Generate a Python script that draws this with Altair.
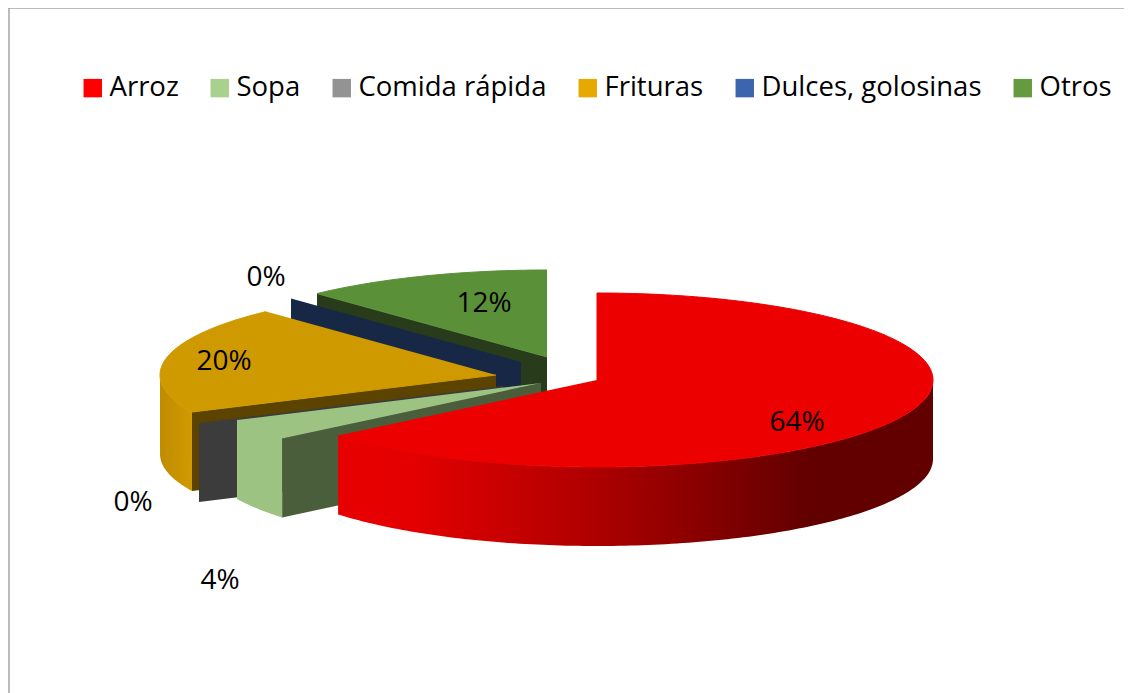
import math
import altair as alt
import pandas as pd

# ---- data ----
categories = ["Arroz", "Sopa", "Comida rápida", "Frituras", "Dulces, golosinas", "Otros"]
values = [64, 4, 0, 20, 0, 12]
legend_colors = ["#ff0000", "#a9d18e", "#939393", "#e5a900", "#3c65ae", "#659b3e"]

# ---- styling / layout of the 3-D look (page pixels) ----
top_colors = ["#ec0000", "#9cc382", "#3c3c3c", "#cf9a00", "#162845", "#5a9038"]
wall_colors = [None, "#4b5e3c", "#3c3c3c", "#5c4300", "#162845", "#283b1a"]
centers = [(597, 380), (541, 383), (503, 386), (496, 375), (521, 362), (547, 357)]
label_pos = [(797, 421), (220, 579), (133, 501), (224, 360), (266, 276), (484, 302)]
RX, RY, DEPTH = 336, 87, 79
FONT = "Open Sans"
RIGHT = 1124

xs = alt.Scale(domain=[8, RIGHT], nice=False, zero=False)
ys = alt.Scale(domain=[693, 8], nice=False, zero=False)
X = lambda f="x": alt.X(f"{f}:Q", scale=xs, axis=None)
Y = lambda f="y": alt.Y(f"{f}:Q", scale=ys, axis=None)


def ellipse(c, deg, drop=0):
    a = math.radians(deg)
    return (c[0] + RX * math.sin(a), c[1] - RY * math.cos(a) + drop)


def arc(c, a0, a1, drop=0):
    n = max(1, int(abs(a1 - a0)))
    return [ellipse(c, a0 + (a1 - a0) * k / n, drop) for k in range(n + 1)]


def poly(points, fill, outline=False):
    df = pd.DataFrame(points, columns=["x", "y"])
    df["i"] = range(len(df))
    style = dict(stroke=fill, strokeWidth=1) if outline else dict(strokeWidth=0)
    return alt.Chart(df).mark_line(fill=fill, interpolate="linear", **style).encode(
        x=X(), y=Y(), order=alt.Order("i:Q")
    )


# start/end angle of every slice, from the values
ends = []
total = 0
for v in values:
    start = total / sum(values) * 360
    total += v
    ends.append((start, total / sum(values) * 360))

layers = []

# frame of the chart area (top and left only are visible)
frame_h = pd.DataFrame({"x": [8], "x2": [RIGHT], "y": [8]})
frame_v = pd.DataFrame({"x": [9], "y": [8], "y2": [693]})
layers.append(alt.Chart(frame_h).mark_rule(color="#a6a6a6", strokeWidth=1.5).encode(
    x=X(), x2="x2:Q", y=Y()))
layers.append(alt.Chart(frame_v).mark_rule(color="#a6a6a6", strokeWidth=1.5).encode(
    x=X(), y=Y(), y2="y2:Q"))

side_fill = {
    3: alt.Gradient(gradient="linear", x1=0, x2=1, y1=0, y2=0, stops=[
        alt.GradientStop(color="#c08c00", offset=0),
        alt.GradientStop(color="#d09a00", offset=1)]),
    0: alt.Gradient(gradient="linear", x1=0, x2=1, y1=0, y2=0, stops=[
        alt.GradientStop(color="#e80000", offset=0),
        alt.GradientStop(color="#e40000", offset=0.12),
        alt.GradientStop(color="#b00000", offset=0.42),
        alt.GradientStop(color="#620000", offset=0.79),
        alt.GradientStop(color="#620000", offset=1)]),
}

# painter's order: back slices first
for idx in [5, 4, 3, 2, 1, 0]:
    c = centers[idx]
    a0, a1 = ends[idx]
    # radial wall at the slice's start angle (left half only)
    if wall_colors[idx]:
        p = ellipse(c, a0)
        q = ellipse(c, a0, DEPTH)
        layers.append(poly([c, p, q, (c[0], c[1] + DEPTH)], wall_colors[idx]))
    if idx == 1:
        # flat-coloured slice: top and outer wall drawn as one silhouette
        pts = [c, ellipse(c, a0)] + arc(c, a0, a1, DEPTH) + [ellipse(c, a1)]
        layers.append(poly(pts, top_colors[idx]))
        continue
    # outer curved wall (only the part turned to the viewer)
    if idx in side_fill:
        lo, hi = max(a0, 90), min(a1, 270)
        pts = arc(c, lo, hi) + arc(c, hi, lo, DEPTH)
        layers.append(poly(pts, side_fill[idx]))
    # top surface
    if a1 > a0:
        layers.append(poly([c] + arc(c, a0, a1), top_colors[idx], outline=True))

labels = pd.DataFrame({
    "t": [f"{v}%" for v in values],
    "x": [p[0] for p in label_pos],
    "y": [p[1] for p in label_pos],
})
layers.append(alt.Chart(labels).mark_text(font=FONT, fontSize=28, dy=2, color="#000000").encode(
    x=X(), y=Y(), text="t:N"))

# legend carrier: zero-sized squares, so only the legend shows
legend_df = pd.DataFrame({"cat": categories, "x": [597] * 6, "y": [380] * 6})
layers.append(alt.Chart(legend_df).mark_square(size=0).encode(
    x=X(), y=Y(),
    color=alt.Color("cat:N",
        scale=alt.Scale(domain=categories, range=legend_colors),
        sort=categories,
        legend=alt.Legend(title=None, orient="none", legendX=71, legendY=66,
                          direction="horizontal", columns=6, symbolType="square",
                          symbolSize=340, symbolOpacity=1, symbolStrokeWidth=0,
                          labelFont=FONT, labelFontSize=27.5, labelColor="#000000",
                          labelOffset=3, columnPadding=27, labelLimit=400)),
))

chart = alt.layer(*layers).resolve_scale(x="shared", y="shared").properties(
    width=RIGHT - 8, height=685, padding=0,
    autosize=alt.AutoSizeParams(type="none"),
    background="#ffffff",
).configure_view(stroke=None)

chart.save("out.html", embed_options={"renderer": "svg", "actions": False})
